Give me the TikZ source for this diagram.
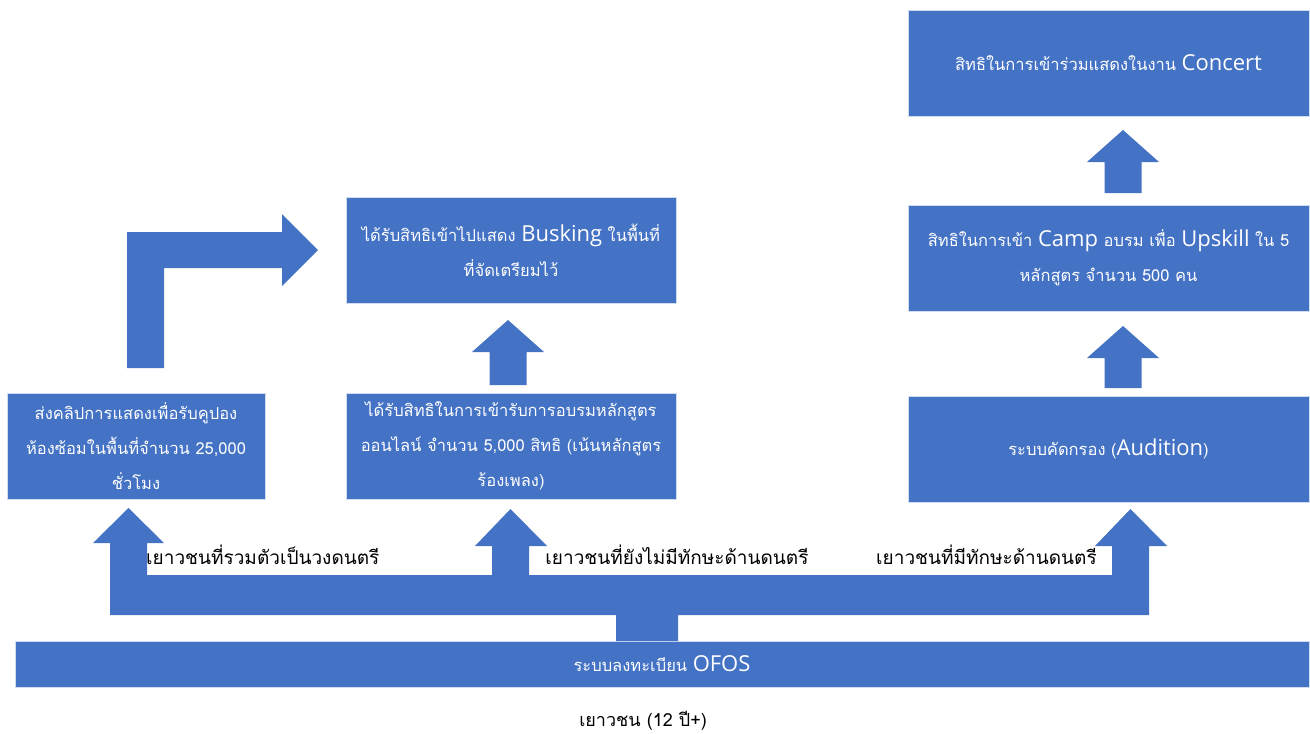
\documentclass[tikz,border=0pt]{standalone}
\usepackage{fontspec}
\setmainfont[Script=Thai]{Loma}
\newfontfamily\lat{Open Sans}
\definecolor{ofosblue}{RGB}{68,114,196}
\newcommand\latw[1]{{\lat\fontsize{22}{35}\selectfont #1}}
\tikzset{
  box/.style={rectangle, fill=ofosblue, draw=white!75!ofosblue, line width=0.8pt,
    text=white, align=center, font=\fontsize{16.5}{35}\selectfont, inner sep=0pt},
  blockarrow/.style={fill=ofosblue},
  tag/.style={font=\fontsize{19}{22}\selectfont, inner sep=0pt}
}
\newcommand\upblock[3]{% x, bottom, tip
  \fill[blockarrow] (#1-18.5,#2) -- (#1-18.5,#3+32) -- (#1-36,#3+32) -- (#1,#3)
    -- (#1+36,#3+32) -- (#1+18.5,#3+32) -- (#1+18.5,#2) -- cycle;}
\begin{document}
\begin{tikzpicture}[x=1pt,y=-1pt]
  \useasboundingbox (0,0) rectangle (1310,734);
  \node[box, minimum width=401, minimum height=106] (concert) at (1108.5,63)
    {สิทธิในการเข้าร่วมแสดงในงาน \latw{Concert}};
  \node[box, minimum width=401, minimum height=106] (camp) at (1108.5,258)
    {สิทธิในการเข้า \latw{Camp} อบรม เพื่อ \latw{Upskill} ใน 5\\หลักสูตร จำนวน 500 คน};
  \node[box, minimum width=401, minimum height=106] (audition) at (1108.5,449)
    {ระบบคัดกรอง (\latw{Audition})};
  \node[box, minimum width=258, minimum height=106] (clip) at (136,446)
    {ส่งคลิปการแสดงเพื่อรับคูปอง\\ห้องซ้อมในพื้นที่จำนวน 25,000\\ชั่วโมง};
  \node[box, minimum width=330, minimum height=106] (busking) at (511,250)
    {ได้รับสิทธิเข้าไปแสดง \latw{Busking} ในพื้นที่\\ที่จัดเตรียมไว้};
  \node[box, minimum width=330, minimum height=106] (online) at (511,446)
    {ได้รับสิทธิในการเข้ารับการอบรมหลักสูตร\\ออนไลน์ จำนวน 5,000 สิทธิ (เน้นหลักสูตร\\ร้องเพลง)};
  \node[box, minimum width=1294, minimum height=46] (ofos) at (662,664)
    {ระบบลงทะเบียน \latw{OFOS}};
  \upblock{508}{385}{320}
  \upblock{1123}{388}{326}
  \upblock{1123}{193}{130}
  \fill[blockarrow] (127,368) -- (127,232) -- (282,232) -- (282,214) -- (318,250)
    -- (282,286) -- (282,268) -- (164,268) -- (164,368) -- cycle;
  \fill[blockarrow] (616,641) -- (616,615) -- (110,615) -- (110,543) -- (93,543)
    -- (128.5,508) -- (164,543) -- (147,543) -- (147,575) -- (492,575) -- (492,546)
    -- (475,546) -- (510.5,509) -- (547,546) -- (529,546) -- (529,575) -- (1112,575)
    -- (1112,546) -- (1095,546) -- (1130.5,509) -- (1167,546) -- (1149,546)
    -- (1149,615) -- (678,615) -- (678,641) -- cycle;
  \node[tag, anchor=west] (band) at (146,555) {เยาวชนที่รวมตัวเป็นวงดนตรี};
  \node[tag] (novice) at (677,555) {เยาวชนที่ยังไม่มีทักษะด้านดนตรี};
  \node[tag] (skilled) at (986.5,555) {เยาวชนที่มีทักษะด้านดนตรี};
  \node[font=\fontsize{18}{20}\selectfont] (youth) at (643,721) {เยาวชน (12 ปี+)};
\end{tikzpicture}
\end{document}
